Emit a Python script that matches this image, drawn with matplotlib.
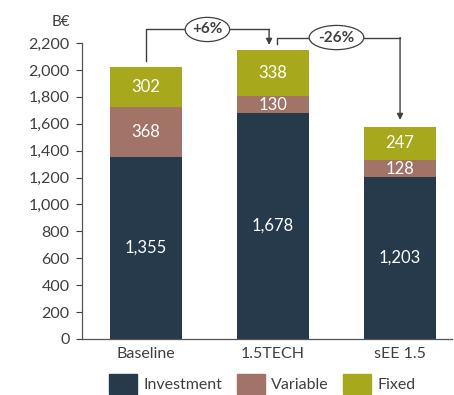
import numpy as np
import matplotlib.pyplot as plt
from matplotlib.patches import Patch, Ellipse

plt.rcParams['font.family'] = ['Lato', 'DejaVu Sans']

categories = ['Baseline', '1.5TECH', 'sEE 1.5']
investment = [1355, 1678, 1203]
variable = [368, 130, 128]
fixed = [302, 338, 247]
changes = ['+6%', '-26%']

c_inv = '#263a4b'
c_var = '#a27467'
c_fix = '#a8a81c'
grey = '#404040'

fig = plt.figure(figsize=(4.54, 3.95), dpi=100)
ax = fig.add_axes([0.181, 0.142, 0.815, 0.749])

x = np.arange(len(categories))
w = 0.5625
inv = np.array(investment)
var = np.array(variable)
fix = np.array(fixed)

ax.bar(x, inv, w, color=c_inv)
ax.bar(x, var, w, bottom=inv, color=c_var)
ax.bar(x, fix, w, bottom=inv + var, color=c_fix)

for i in range(len(x)):
    ax.text(x[i], inv[i] / 2, f'{inv[i]:,}', ha='center', va='center', color='white', fontsize=12)
    ax.text(x[i], inv[i] + var[i] / 2, f'{var[i]:,}', ha='center', va='center', color='white', fontsize=12)
    ax.text(x[i], inv[i] + var[i] + fix[i] / 2, f'{fix[i]:,}', ha='center', va='center', color='white', fontsize=12)

ax.set_xlim(-0.5, 2.41)
ax.set_ylim(0, 2200)
ax.set_yticks(np.arange(0, 2201, 200))
ax.set_yticklabels([f'{v:,}' for v in range(0, 2201, 200)])
ax.set_xticks(x)
ax.set_xticklabels(categories)
ax.tick_params(axis='x', length=0, pad=6, labelsize=11.5, colors=grey)
ax.tick_params(axis='y', length=4, width=0.8, pad=5, labelsize=11.5, colors=grey, direction='out')
for s in ['top', 'right']:
    ax.spines[s].set_visible(False)
for s in ['left', 'bottom']:
    ax.spines[s].set_color('#555555')
    ax.spines[s].set_linewidth(0.9)

ax.text(-0.67, 2355, 'B€', ha='center', va='center', fontsize=11, color=grey, clip_on=False)

totals = inv + var + fix
lc = '#404040'
# arrow 1: Baseline -> 1.5TECH
y_top1 = 2301
ax.plot([0, 0, 0.97], [totals[0] + 40, y_top1, y_top1], color=lc, lw=1, clip_on=False)
ax.annotate('', xy=(0.97, totals[1] + 40), xytext=(0.97, y_top1),
            arrowprops=dict(arrowstyle='-|>', color=lc, lw=1, mutation_scale=9, shrinkA=0, shrinkB=0),
            annotation_clip=False)
ax.add_patch(Ellipse((0.485, y_top1), 0.35, 180, fc='white', ec=lc, lw=0.9, clip_on=False, zorder=4))
ax.text(0.485, y_top1, changes[0], ha='center', va='center', fontsize=11, fontweight='bold', color=grey,
        zorder=5, clip_on=False)

# arrow 2: 1.5TECH -> sEE 1.5
y_top2 = 2241
ax.plot([1.03, 1.03, 2], [totals[1] + 45, y_top2, y_top2], color=lc, lw=1, clip_on=False)
ax.annotate('', xy=(2, totals[2] + 50), xytext=(2, y_top2),
            arrowprops=dict(arrowstyle='-|>', color=lc, lw=1, mutation_scale=9, shrinkA=0, shrinkB=0),
            annotation_clip=False)
ax.add_patch(Ellipse((1.5, y_top2), 0.43, 180, fc='white', ec=lc, lw=0.9, clip_on=False, zorder=4))
ax.text(1.5, y_top2, changes[1], ha='center', va='center', fontsize=11, fontweight='bold', color=grey,
        zorder=5, clip_on=False)

handles = [Patch(color=c_inv), Patch(color=c_var), Patch(color=c_fix)]
fig.legend(handles, ['Investment', 'Variable', 'Fixed'], loc='center', bbox_to_anchor=(0.578, 0.028),
           ncol=3, frameon=False, fontsize=11.5, handlelength=1.75, handleheight=1.5,
           handletextpad=0.4, columnspacing=0.9, labelcolor=grey)

fig.savefig('out.png', dpi=100)
